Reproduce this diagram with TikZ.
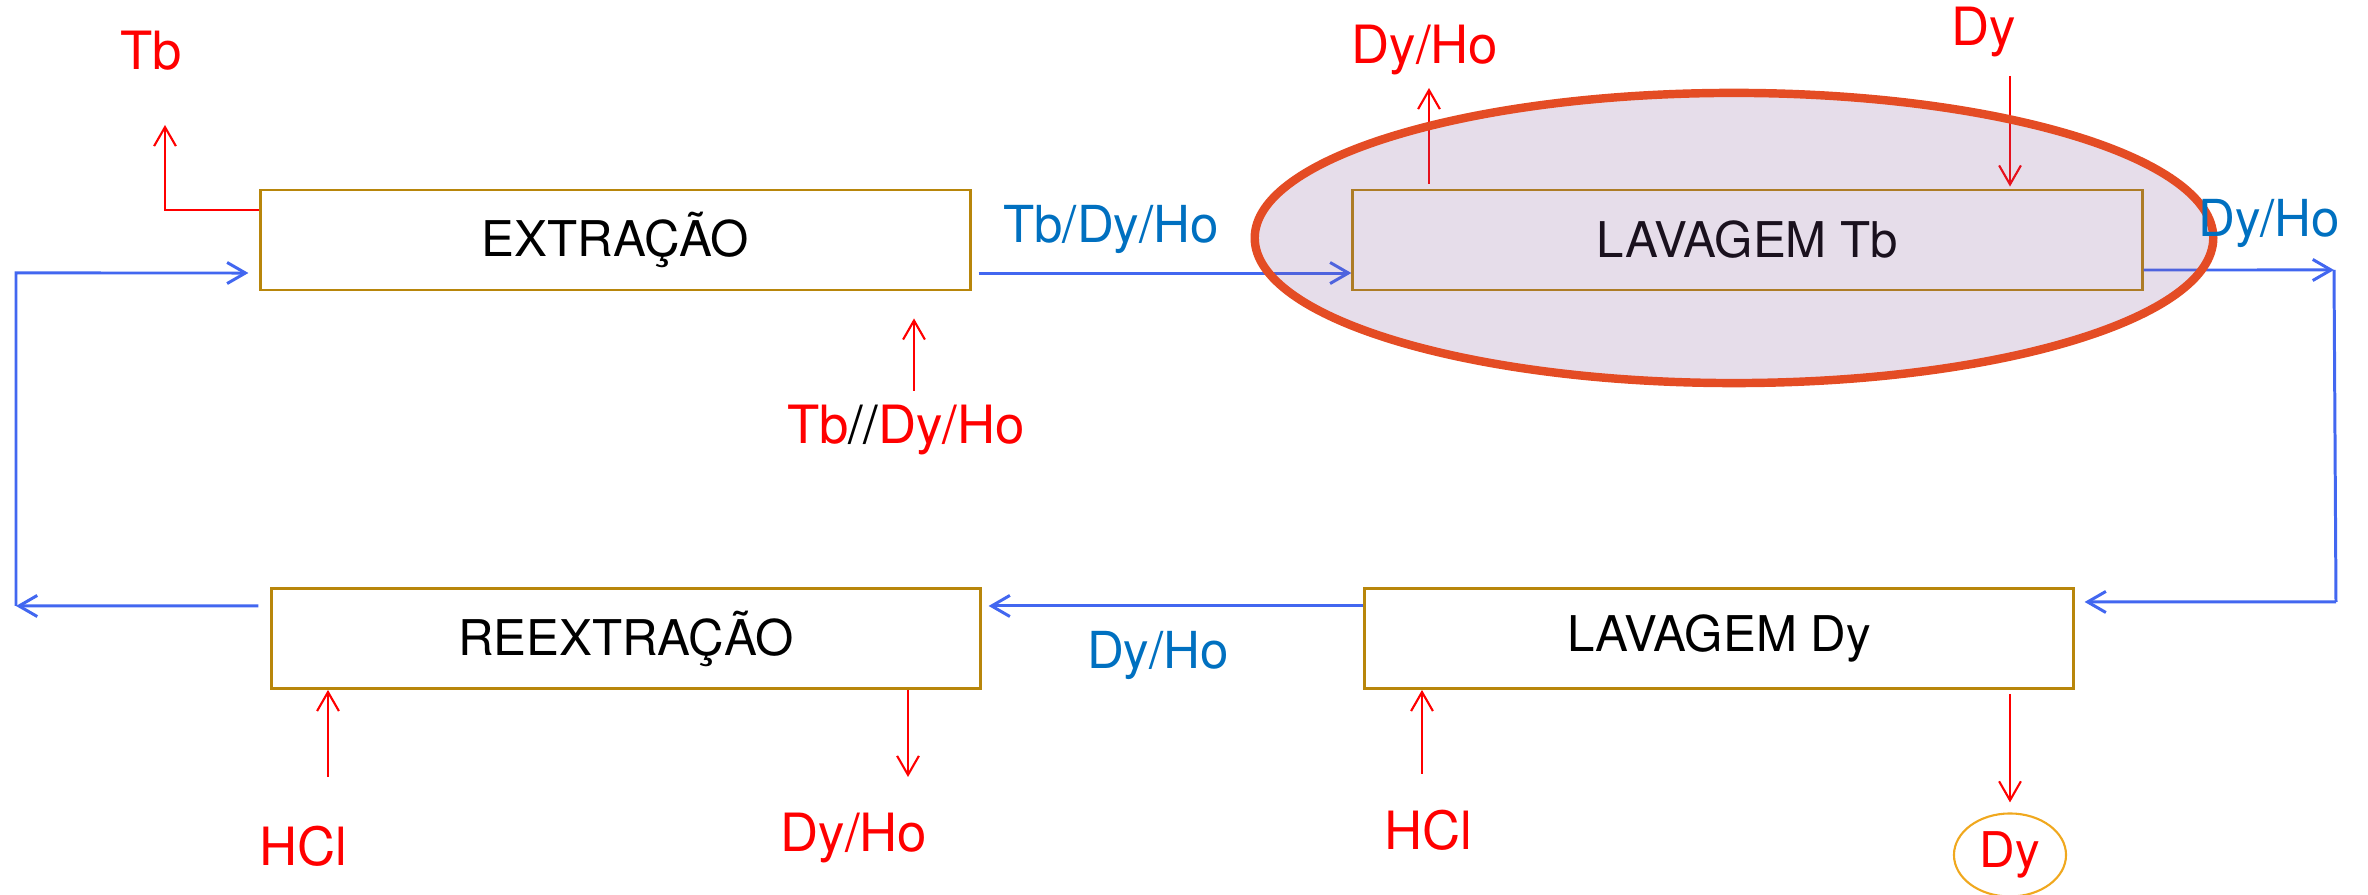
\documentclass[tikz,border=0pt]{standalone}
\usepackage{fontspec}
\setmainfont{TeX Gyre Heros}
\usepackage{xcolor}
\usepackage{tikz}
\usetikzlibrary{arrows.meta}
\usetikzlibrary{shapes.geometric}

\definecolor{boxgold}{RGB}{184,134,11}
\definecolor{flowblue}{RGB}{66,103,240}
\definecolor{labelblue}{RGB}{0,112,192}
\definecolor{ringred}{RGB}{228,76,36}
\definecolor{ringfill}{RGB}{130,85,150}
\definecolor{dyring}{RGB}{240,168,30}

\begin{document}
\begin{tikzpicture}[x=0.01cm,y=-0.01cm,
		etapa/.style={draw=boxgold, line width=0.8pt, minimum height=1cm, font=\fontsize{14}{16}\selectfont},
		fluxo/.style={draw=flowblue, line width=0.85pt, -{Straight Barb[length=5.2pt,width=6pt]}},
		seta/.style={draw=red, line width=0.6pt, -{Straight Barb[length=5.4pt,width=6.2pt]}},
		rotulo/.style={text=red, font=\fontsize{15}{18}\selectfont},
		rotuloazul/.style={text=labelblue, font=\fontsize{14.5}{17}\selectfont}
	]
	\useasboundingbox (0,0) rectangle (2368,895);
	
	% the four stages
	\node [etapa, minimum width=7.09cm] (extracao) at (615.5,240) {EXTRAÇÃO};
	\node [etapa, minimum width=7.89cm] (lavTb) at (1747.5,240) {LAVAGEM Tb};
	\node [etapa, minimum width=7.08cm] (lavDy) at (1719,638.5) {LAVAGEM Dy};
	\node [etapa, minimum width=7.08cm] (reext) at (626,638.5) {REEXTRAÇÃO};
	
	% loop corners
	\coordinate (canto1) at (2334,270);
	\coordinate (canto2) at (2336,602);
	\coordinate (canto3) at (16,606);
	\coordinate (canto4) at (16,273);
	
	% organic phase
	\draw [fluxo] ([xshift=0.07cm,yshift=-0.33cm]extracao.east) -- ([yshift=-0.33cm]lavTb.west);
	\draw [fluxo] ([yshift=-0.3cm]lavTb.east) -- (canto1);
	\draw [fluxo, -] (canto1) -- (canto2);
	\draw [fluxo] (canto2) -- ([xshift=0.1cm,yshift=0.365cm]lavDy.east);
	\draw [fluxo] ([yshift=0.325cm]lavDy.west) -- ([xshift=0.07cm,yshift=0.325cm]reext.east);
	\draw [fluxo] ([xshift=-0.12cm,yshift=0.325cm]reext.west) -- (canto3);
	\draw [fluxo] (canto3) -- (canto4) -- ([xshift=-0.11cm,yshift=-0.33cm]extracao.west);
	
	\node [rotuloazul] (azul1) at (1111,229) {Tb/Dy/Ho};
	\node [rotuloazul] (azul3) at (1158,655) {Dy/Ho};
	
	% aqueous streams
	\node [rotulo] (tb) at (151,51) {Tb};
	\node [rotulo] (alim) at (906,430) {Tb\textcolor{black}{//}Dy/Ho};
	\node [rotulo] (dyho1) at (1425,50) {Dy/Ho};
	\node [rotulo] (dy1) at (1984,32) {Dy};
	\node [rotulo] (hcl1) at (303,846) {HCl};
	\node [rotulo] (dyho2) at (854,838) {Dy/Ho};
	\node [rotulo] (hcl2) at (1428,830) {HCl};
	\node [ellipse, draw=dyring, line width=0.6pt, minimum width=1.12cm, minimum height=0.83cm, inner sep=0pt,
		text=red, font=\fontsize{14}{16}\selectfont] (dyAnel) at (2010,855) {Dy};
	
	\coordinate (tbFim) at (165,125);
	\coordinate (alimIni) at (914,391);
	\coordinate (dyhoFim1) at (1429,88);
	\coordinate (dyIni) at (2010,76);
	\coordinate (hclIni1) at (328,777);
	\coordinate (dyhoFim2) at (908,777);
	\coordinate (hclIni2) at (1422,774);
	
	\draw [seta] ([yshift=0.3cm]extracao.west) -| (tbFim);
	\draw [seta, shorten >=0.27cm] (alimIni) -- (alimIni |- extracao.south);
	\draw [seta, shorten <=0.05cm] (dyhoFim1 |- lavTb.north) -- (dyhoFim1);
	\draw [seta, shorten >=0.02cm] (dyIni) -- (dyIni |- lavTb.north);
	\draw [seta] (hclIni1) -- (hclIni1 |- reext.south);
	\draw [seta] (dyhoFim2 |- reext.south) -- (dyhoFim2);
	\draw [seta] (hclIni2) -- (hclIni2 |- lavDy.south);
	\draw [seta, shorten <=0.04cm, shorten >=0.1cm] (dyAnel.north |- lavDy.south) -- (dyAnel.north);
	
	% highlight round the Tb wash
	\node [ellipse, draw=ringred, line width=2.4pt, fill=ringfill, fill opacity=0.2, draw opacity=1,
		minimum width=9.58cm, minimum height=2.9cm] (anel) at (1734,238) {};
	\node [rotuloazul] (azul2) at (2269,223) {Dy/Ho};
\end{tikzpicture}
\end{document}
